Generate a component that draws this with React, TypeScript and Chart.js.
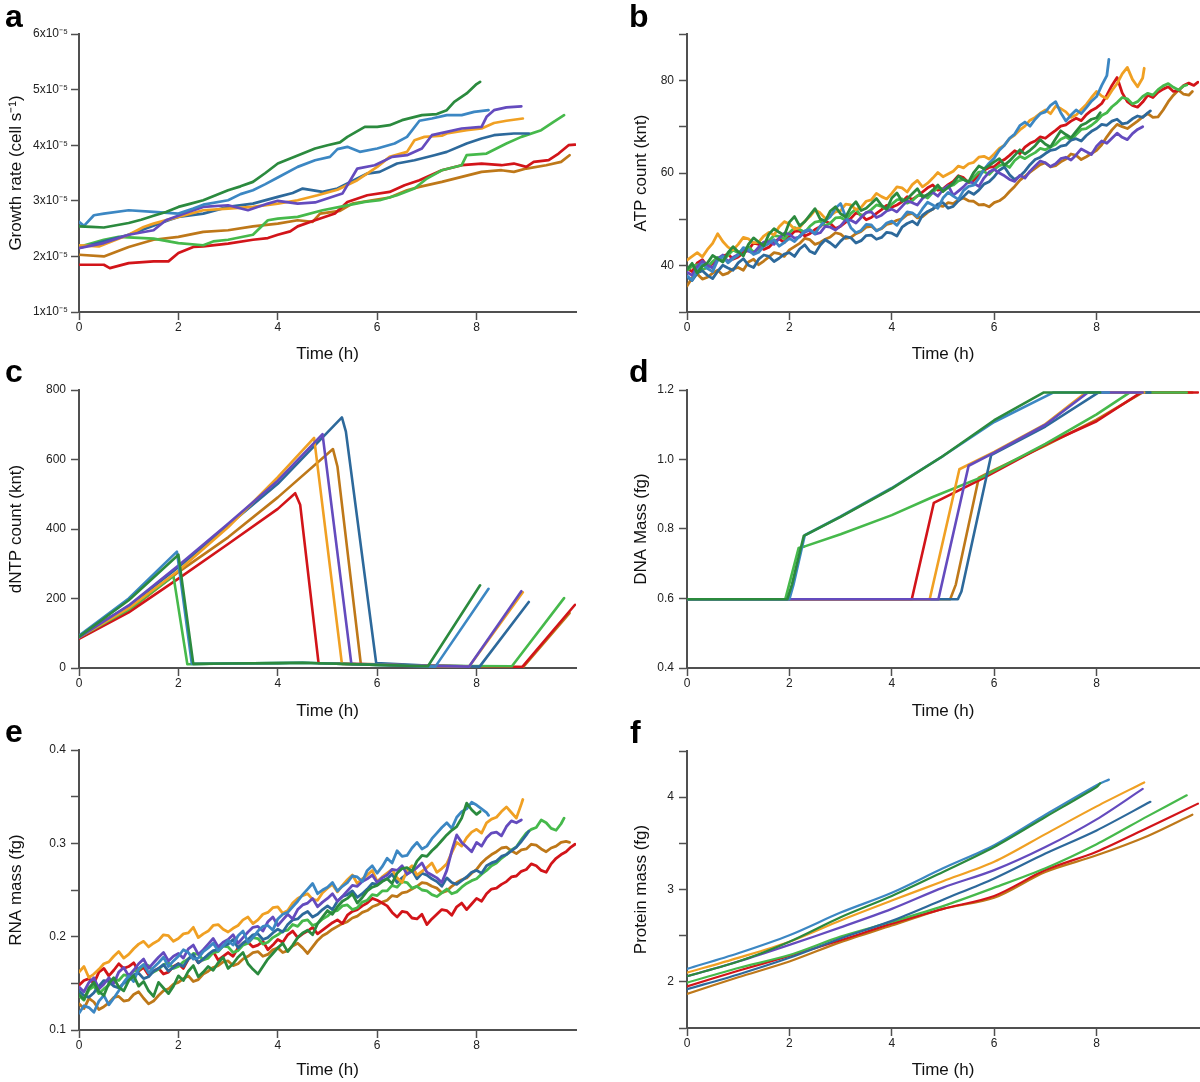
import React, { useEffect, useRef } from 'react';
import { Chart, registerables } from 'chart.js';

Chart.register(...registerables);

const FONT = "'Liberation Sans', Arial, Helvetica, sans-serif";
Chart.defaults.font.family = FONT;

// ---- cells (same colour = same cell in every panel) ----
const CELLS = ['cell 1', 'cell 2', 'cell 3', 'cell 4', 'cell 5', 'cell 6', 'cell 7', 'cell 8'];
const COLORS = ['#2b8a3e', '#3c87c3', '#644bbe', '#f0a023', '#2d699b', '#46b94b', '#d21419', '#be7819'];
const CELL_END = [8.07, 8.24, 8.9, 8.93, 9.05, 9.76, 9.98, 9.87];

const X_TICKS_MAX = 8;
const TIME_GRID = [
  0, 0.1, 0.2, 0.3, 0.4, 0.5, 0.6, 0.7, 0.8, 0.9,
  1, 1.1, 1.2, 1.3, 1.4, 1.5, 1.6, 1.7, 1.8, 1.9,
  2, 2.1, 2.2, 2.3, 2.4, 2.5, 2.6, 2.7, 2.8, 2.9,
  3, 3.1, 3.2, 3.3, 3.4, 3.5, 3.6, 3.7, 3.8, 3.9,
  4, 4.1, 4.2, 4.3, 4.4, 4.5, 4.6, 4.7, 4.8, 4.9,
  5, 5.1, 5.2, 5.3, 5.4, 5.5, 5.6, 5.7, 5.8, 5.9,
  6, 6.1, 6.2, 6.3, 6.4, 6.5, 6.6, 6.7, 6.8, 6.9,
  7, 7.1, 7.2, 7.3, 7.4, 7.5, 7.6, 7.7, 7.8, 7.9,
  8, 8.1, 8.2, 8.3, 8.4, 8.5, 8.6, 8.7, 8.8, 8.9,
  9, 9.1, 9.2, 9.3, 9.4, 9.5, 9.6, 9.7, 9.8, 9.9];

// ---- a: growth rate, in units of 1e-5 cell/s ----
const growthG = [[0, 2.54], [0.25, 2.53], [0.5, 2.52], [0.75, 2.56], [1, 2.6], [1.25, 2.66], [1.5, 2.73], [1.75, 2.8], [2, 2.89], [2.25, 2.95], [2.5, 3.01], [2.75, 3.1], [3, 3.19], [3.25, 3.26], [3.5, 3.34], [3.75, 3.5], [4, 3.67], [4.25, 3.76], [4.5, 3.85], [4.75, 3.94], [5, 4.0], [5.25, 4.05], [5.4, 4.15], [5.75, 4.33], [6, 4.33], [6.25, 4.36], [6.5, 4.45], [6.9, 4.54], [7.2, 4.56], [7.4, 4.63], [7.55, 4.78], [7.8, 4.93], [8.0, 5.1], [8.07, 5.14]];
const growthLB = [[0, 2.62], [0.1, 2.55], [0.3, 2.74], [0.5, 2.77], [1, 2.83], [1.5, 2.8], [2, 2.77], [2.3, 2.86], [2.5, 2.93], [3, 3.01], [3.25, 3.12], [3.5, 3.19], [3.75, 3.3], [4, 3.42], [4.4, 3.61], [4.75, 3.73], [5.05, 3.79], [5.2, 3.93], [5.4, 3.97], [5.65, 3.88], [6, 3.94], [6.35, 4.03], [6.6, 4.15], [6.85, 4.44], [7.1, 4.48], [7.4, 4.54], [7.7, 4.54], [7.95, 4.6], [8.24, 4.63]];
const growthP = [[0, 2.15], [0.5, 2.24], [1, 2.39], [1.5, 2.47], [1.75, 2.65], [2.2, 2.8], [2.5, 2.89], [3, 2.92], [3.4, 2.83], [3.8, 2.95], [4, 3.0], [4.4, 2.95], [4.75, 2.97], [5.3, 3.13], [5.6, 3.58], [5.95, 3.64], [6.3, 3.79], [6.6, 3.82], [6.9, 3.94], [7.1, 4.18], [7.4, 4.24], [7.7, 4.3], [8.1, 4.33], [8.2, 4.51], [8.35, 4.63], [8.6, 4.68], [8.9, 4.7]];
const growthO = [[0, 2.2], [0.4, 2.18], [1, 2.39], [1.3, 2.53], [1.5, 2.59], [2, 2.71], [2.5, 2.83], [3, 2.86], [3.5, 2.89], [4, 2.95], [4.4, 3.01], [4.8, 3.1], [5.2, 3.2], [5.6, 3.37], [6, 3.61], [6.25, 3.79], [6.6, 3.88], [6.75, 4.09], [6.95, 4.15], [7.3, 4.17], [7.4, 4.21], [7.8, 4.27], [8.1, 4.3], [8.35, 4.4], [8.6, 4.44], [8.93, 4.48]];
const growthDB = [[0, 2.15], [0.5, 2.27], [1, 2.39], [1.25, 2.47], [1.8, 2.65], [2, 2.71], [2.5, 2.77], [3, 2.89], [3.5, 2.95], [4, 3.07], [4.3, 3.14], [4.5, 3.22], [4.9, 3.16], [5.2, 3.22], [5.4, 3.31], [5.8, 3.49], [6.05, 3.52], [6.4, 3.67], [6.75, 3.73], [7.15, 3.82], [7.4, 3.88], [7.8, 4.03], [8.1, 4.12], [8.35, 4.18], [8.75, 4.21], [9.05, 4.21]];
const growthLG = [[0, 2.17], [0.5, 2.3], [0.8, 2.35], [1.5, 2.32], [2, 2.24], [2.5, 2.2], [2.7, 2.27], [3, 2.3], [3.5, 2.39], [3.8, 2.65], [4, 2.68], [4.4, 2.71], [4.9, 2.83], [5.3, 2.9], [5.75, 2.98], [6.05, 3.01], [6.4, 3.1], [6.75, 3.22], [7.0, 3.4], [7.3, 3.55], [7.7, 3.64], [7.8, 3.82], [8.2, 3.85], [8.6, 4.03], [8.9, 4.15], [9.3, 4.27], [9.55, 4.42], [9.76, 4.54]];
const growthR = [[0, 1.85], [0.5, 1.85], [0.62, 1.79], [1, 1.88], [1.5, 1.91], [1.8, 1.91], [2, 2.06], [2.3, 2.17], [2.5, 2.18], [3, 2.23], [3.5, 2.3], [3.8, 2.33], [4, 2.39], [4.25, 2.45], [4.4, 2.54], [4.75, 2.65], [5.15, 2.77], [5.4, 2.98], [5.8, 3.1], [6.25, 3.16], [6.55, 3.28], [6.85, 3.37], [7.3, 3.55], [7.7, 3.64], [8.1, 3.67], [8.5, 3.64], [8.75, 3.67], [9.0, 3.61], [9.15, 3.7], [9.45, 3.73], [9.65, 3.85], [9.85, 4.0], [9.98, 4.01]];
const growthB = [[0, 2.03], [0.5, 2.0], [1, 2.17], [1.5, 2.3], [2, 2.35], [2.5, 2.44], [3, 2.47], [3.5, 2.54], [4, 2.59], [4.4, 2.65], [4.7, 2.62], [4.85, 2.77], [5.25, 2.82], [5.5, 2.95], [5.9, 3.01], [6.25, 3.06], [6.6, 3.19], [6.85, 3.25], [7.3, 3.34], [7.7, 3.43], [8.1, 3.52], [8.5, 3.55], [8.75, 3.52], [9.0, 3.58], [9.4, 3.64], [9.7, 3.7], [9.87, 3.82]];

// ---- b: ATP count (knt), one row per hour on TIME_GRID, last value at CELL_END ----
const atpG = [
  39.2, 40.5, 38.4, 39.9, 40.6, 42.2, 41.5, 40.8, 42.8, 44.1,
  43.0, 42.1, 44.6, 46.0, 45.1, 44.3, 46.8, 48.0, 47.2, 46.5,
  49.4, 50.6, 48.6, 49.5, 50.9, 52.3, 50.1, 49.6, 51.8, 52.7,
  51.2, 50.5, 52.6, 53.8, 51.9, 52.4, 53.4, 54.5, 53.0, 52.2,
  54.6, 55.7, 53.9, 54.4, 55.5, 56.6, 54.8, 55.3, 56.3, 57.4,
  56.0, 56.9, 57.8, 59.3, 58.6, 58.1, 60.1, 61.5, 60.9, 61.6,
  62.4, 63.1, 61.7, 62.6, 63.8, 65.0, 64.1, 64.9, 65.9, 67.2,
  66.2, 65.6, 67.4, 69.1, 68.3, 67.6, 69.0, 70.3, 70.8, 71.6,
  71.9,
  73.0];
const atpLB = [
  37.8, 36.9, 38.9, 40.3, 39.4, 38.7, 41.2, 42.0, 40.6, 41.5,
  42.3, 43.9, 43.5, 42.4, 42.9, 44.2, 44.8, 45.6, 44.2, 45.0,
  45.9, 45.2, 46.4, 47.5, 47.8, 46.9, 48.5, 49.7, 50.6, 52.4,
  53.4, 50.5, 48.2, 47.1, 47.6, 48.9, 48.8, 47.5, 48.1, 49.2,
  49.6, 48.7, 50.2, 51.6, 51.4, 50.6, 52.3, 53.7, 53.1, 52.4,
  54.6, 55.8, 55.0, 54.3, 56.2, 57.1, 57.4, 58.9, 60.8, 62.1,
  63.2, 64.9, 66.0, 67.5, 68.4, 70.2, 71.0, 70.1, 71.6, 72.8,
  73.2, 74.6, 75.4, 73.0, 71.2, 72.5, 73.6, 72.8, 74.1, 75.5,
  76.5, 78.9, 81.0,
  84.5];
const atpP = [
  38.6, 37.9, 39.8, 41.0, 40.1, 39.5, 41.5, 42.3, 40.9, 41.8,
  42.4, 43.6, 43.1, 42.7, 44.0, 45.1, 45.2, 44.6, 45.9, 47.0,
  46.8, 45.9, 46.2, 47.3, 47.6, 46.8, 47.1, 48.5, 48.3, 47.7,
  48.6, 49.9, 49.8, 49.2, 50.4, 51.5, 51.6, 50.4, 50.9, 51.8,
  52.2, 51.6, 52.8, 54.0, 53.6, 53.1, 54.5, 55.4, 55.8, 55.0,
  56.4, 57.3, 55.2, 56.1, 57.0, 58.2, 57.8, 57.1, 58.9, 60.2,
  60.8, 60.0, 59.4, 58.6, 58.2, 59.5, 58.9, 60.4, 61.5, 62.6,
  62.2, 61.4, 62.0, 63.1, 63.4, 62.8, 63.9, 65.2, 64.6, 64.0,
  65.8, 66.9, 66.4, 67.5, 68.6, 67.7, 67.2, 68.5, 69.4,
  70.0];
const atpO = [
  41.2, 42.0, 42.8, 41.9, 43.5, 44.8, 46.9, 45.2, 44.0, 43.4,
  44.6, 46.1, 45.8, 44.9, 45.1, 46.4, 47.2, 46.6, 48.4, 49.5,
  49.0, 47.9, 48.2, 49.6, 50.6, 52.0, 51.4, 50.2, 50.8, 51.6,
  51.9, 53.3, 53.1, 52.1, 52.6, 53.9, 54.2, 55.6, 54.9, 54.4,
  55.6, 57.0, 56.8, 55.9, 57.5, 58.4, 57.0, 57.8, 58.9, 60.1,
  59.2, 59.8, 60.4, 61.5, 61.1, 62.0, 62.3, 63.4, 63.6, 63.0,
  64.1, 65.3, 66.0, 67.4, 68.2, 69.3, 70.1, 71.4, 72.0, 72.9,
  73.6, 72.8, 74.4, 73.9, 73.2, 72.0, 72.5, 73.7, 74.8, 76.3,
  77.6, 76.6, 76.1, 77.8, 79.3, 81.4, 82.8, 80.2, 78.6, 80.5,
  82.6];
const atpDB = [
  37.6, 36.8, 38.4, 38.9, 37.9, 37.2, 38.8, 40.1, 39.5, 39.0,
  40.6, 41.5, 40.1, 39.6, 41.4, 42.3, 42.0, 40.9, 41.6, 42.5,
  42.8, 42.0, 43.6, 44.5, 43.1, 42.6, 44.4, 45.6, 44.9, 44.0,
  45.3, 46.3, 46.0, 44.9, 45.4, 46.5, 46.6, 45.7, 46.1, 47.2,
  47.0, 46.4, 48.3, 49.1, 49.6, 48.8, 50.9, 51.7, 52.2, 53.3,
  53.6, 52.4, 52.8, 54.0, 54.9, 56.0, 55.4, 56.3, 57.6, 58.1,
  59.2, 60.6, 61.3, 59.6, 58.6, 59.3, 60.4, 61.8, 62.9, 63.4,
  64.2, 64.9, 65.1, 65.8, 66.0, 67.1, 67.4, 66.9, 68.1, 69.0,
  69.6, 70.5, 70.3, 71.2, 71.6, 70.6, 70.8, 71.7, 72.3, 72.0,
  73.0,
  73.4];
const atpLG = [
  39.0, 39.9, 40.2, 39.1, 39.6, 40.9, 41.8, 41.0, 42.3, 43.4,
  42.8, 43.5, 44.1, 42.9, 43.6, 44.8, 45.4, 46.5, 46.3, 45.8,
  47.1, 48.2, 47.8, 47.2, 48.5, 49.4, 49.6, 48.6, 49.2, 50.3,
  50.4, 49.8, 51.3, 52.2, 50.7, 51.4, 52.1, 53.1, 52.8, 52.1,
  53.3, 54.2, 54.4, 53.5, 54.0, 55.1, 55.2, 54.6, 55.8, 56.9,
  56.5, 57.0, 57.4, 58.3, 58.6, 58.0, 59.1, 60.2, 60.3, 59.7,
  60.8, 61.6, 61.9, 61.2, 62.7, 63.6, 63.1, 63.8, 64.4, 65.3,
  65.0, 65.6, 66.2, 67.3, 67.8, 67.1, 68.3, 69.4, 69.6, 70.3,
  71.2, 72.4, 73.0, 74.3, 75.2, 76.3, 76.0, 74.9, 75.4, 76.5,
  77.2, 76.8, 78.0, 78.8, 79.3, 78.5, 77.9, 78.8,
  79.0];
const atpR = [
  39.4, 38.7, 40.6, 41.3, 39.8, 40.4, 41.2, 42.0, 42.5, 41.4,
  41.9, 42.8, 43.4, 44.9, 44.6, 43.5, 44.0, 45.1, 45.8, 45.0,
  46.3, 47.4, 47.5, 46.4, 46.9, 47.8, 48.4, 49.6, 49.1, 48.0,
  48.5, 49.4, 50.2, 51.4, 51.0, 49.9, 50.4, 51.3, 52.1, 53.0,
  52.6, 53.1, 53.8, 54.9, 54.3, 55.0, 55.9, 56.8, 57.4, 56.3,
  56.6, 57.5, 58.2, 59.4, 59.0, 57.9, 58.4, 59.5, 60.6, 61.2,
  61.4, 62.3, 62.9, 63.8, 64.8, 64.2, 65.6, 66.4, 66.9, 67.8,
  67.5, 68.4, 69.2, 70.1, 70.4, 71.2, 71.8, 71.3, 72.6, 73.5,
  74.1, 75.0, 76.8, 78.9, 80.6, 77.3, 75.4, 74.6, 74.2, 75.3,
  76.8, 76.3, 77.4, 78.1, 78.6, 77.6, 77.8, 78.9, 79.4, 78.9,
  79.6];
const atpB = [
  35.6, 37.4, 38.2, 37.1, 37.5, 38.4, 39.0, 38.0, 38.4, 39.3,
  39.6, 39.0, 40.8, 41.4, 40.2, 41.0, 41.9, 42.8, 42.6, 42.0,
  43.4, 44.1, 44.8, 45.9, 45.6, 44.6, 45.0, 45.7, 46.2, 47.1,
  46.8, 45.9, 46.1, 46.9, 47.4, 48.3, 48.5, 47.6, 48.0, 48.9,
  49.2, 49.8, 50.1, 51.0, 51.3, 50.3, 50.6, 51.5, 52.2, 53.0,
  52.8, 53.6, 53.4, 54.2, 54.6, 54.0, 53.9, 53.1, 53.2, 52.7,
  53.6, 54.0, 54.8, 56.0, 57.1, 58.4, 59.3, 60.2, 61.0, 61.8,
  62.2, 61.3, 61.6, 62.4, 63.0, 64.1, 63.8, 62.9, 63.5, 64.2,
  64.9, 66.1, 67.8, 69.3, 70.5, 70.0, 69.6, 70.4, 71.2, 72.1,
  72.8, 72.0, 72.1, 73.6, 75.4, 76.8, 77.9, 77.0, 76.8,
  77.6];

// ---- c: dNTP count (knt) ----
const dntpG = [[0, 90], [1, 195], [2.0, 326], [2.3, 12], [3, 13], [4, 14], [4.5, 15], [5, 13], [6, 9], [7.02, 5], [8.07, 238]];
const dntpLB = [[0, 93], [1, 200], [1.97, 335], [2.27, 12], [3, 13], [4, 14], [4.5, 15], [5, 13], [6, 9], [7.17, 4], [8.24, 228]];
const dntpP = [[0, 88], [1, 180], [2, 295], [3, 415], [4, 539], [4.9, 673], [5.48, 12], [6, 10], [7, 6], [7.85, 4], [8.9, 221]];
const dntpO = [[0, 88], [1, 172], [2, 280], [3, 405], [4, 549], [4.73, 662], [5.29, 12], [6, 10], [7, 6], [7.85, 4], [8.93, 218]];
const dntpDB = [[0, 92], [1, 178], [2, 290], [3, 410], [4, 530], [5.29, 721], [5.37, 680], [5.98, 14], [7, 7], [8.06, 4], [9.05, 190]];
const dntpLG = [[0, 88], [1, 168], [1.9, 265], [2.18, 11], [3, 13], [4, 14], [4.5, 15], [5, 13], [6, 9], [7, 6], [8.71, 5], [9.76, 201]];
const dntpR = [[0, 84], [1, 160], [2, 257], [3, 357], [4, 458], [4.35, 503], [4.45, 470], [4.82, 14], [6, 10], [7, 6], [8.92, 3], [9.98, 182]];
const dntpB = [[0, 85], [1, 165], [2, 276], [3, 376], [4, 491], [5.11, 630], [5.2, 580], [5.67, 12], [7, 6], [8.94, 3], [9.87, 158]];

// ---- d: DNA mass (fg) ----
const dnaG = [[0, 0.598], [1.96, 0.598], [2.05, 0.64], [2.28, 0.78], [3, 0.835], [4, 0.916], [5, 1.01], [6, 1.113], [6.97, 1.193], [8.07, 1.193]];
const dnaLB = [[0, 0.598], [2.0, 0.598], [2.08, 0.64], [2.3, 0.782], [3, 0.836], [4, 0.918], [5, 1.01], [6, 1.108], [7.16, 1.193], [8.24, 1.193]];
const dnaP = [[0, 0.598], [4.91, 0.598], [5.5, 0.982], [6, 1.02], [7, 1.1], [7.83, 1.193], [8.9, 1.193]];
const dnaO = [[0, 0.598], [4.74, 0.598], [5.32, 0.972], [6, 1.022], [7, 1.102], [7.79, 1.193], [8.93, 1.193]];
const dnaDB = [[0, 0.598], [5.29, 0.598], [5.36, 0.62], [5.94, 1.0125], [7, 1.095], [8.04, 1.193], [9.05, 1.193]];
const dnaLG = [[0, 0.598], [1.92, 0.598], [2.18, 0.745], [2.3, 0.75], [3, 0.785], [4, 0.84], [4.8, 0.892], [5.77, 0.95], [7, 1.045], [8, 1.13], [8.65, 1.193], [9.76, 1.193]];
const dnaR = [[0, 0.598], [4.39, 0.598], [4.82, 0.875], [5.77, 0.945], [7.04, 1.046], [8, 1.11], [8.87, 1.193], [9.98, 1.193]];
const dnaB = [[0, 0.598], [5.14, 0.598], [5.25, 0.64], [5.7, 0.948], [6, 0.97], [7, 1.04], [8, 1.115], [8.9, 1.193], [9.87, 1.193]];

// ---- e: RNA mass (fg), one row per hour on TIME_GRID, last value at CELL_END ----
const rnaG = [
  0.138, 0.133, 0.145, 0.151, 0.141, 0.137, 0.150, 0.156, 0.146, 0.142,
  0.153, 0.158, 0.147, 0.152, 0.142, 0.136, 0.151, 0.145, 0.139, 0.147,
  0.158, 0.153, 0.163, 0.169, 0.157, 0.162, 0.168, 0.164, 0.172, 0.178,
  0.166, 0.171, 0.178, 0.183, 0.171, 0.165, 0.160, 0.168, 0.176, 0.182,
  0.188, 0.193, 0.184, 0.191, 0.199, 0.204, 0.207, 0.202, 0.214, 0.221,
  0.228, 0.224, 0.232, 0.238, 0.241, 0.246, 0.236, 0.242, 0.249, 0.253,
  0.255, 0.259, 0.262, 0.257, 0.268, 0.273, 0.274, 0.270, 0.281, 0.287,
  0.286, 0.292, 0.297, 0.303, 0.309, 0.314, 0.318, 0.327, 0.343, 0.336,
  0.331,
  0.334];
const rnaLB = [
  0.118, 0.126, 0.124, 0.119, 0.131, 0.137, 0.127, 0.134, 0.142, 0.151,
  0.158, 0.152, 0.166, 0.170, 0.161, 0.167, 0.172, 0.178, 0.168, 0.174,
  0.179, 0.186, 0.183, 0.176, 0.177, 0.184, 0.188, 0.193, 0.185, 0.190,
  0.196, 0.191, 0.201, 0.206, 0.194, 0.199, 0.206, 0.211, 0.212, 0.207,
  0.219, 0.224, 0.226, 0.232, 0.238, 0.245, 0.251, 0.257, 0.246, 0.250,
  0.253, 0.258, 0.249, 0.254, 0.258, 0.265, 0.264, 0.259, 0.271, 0.276,
  0.268, 0.275, 0.284, 0.279, 0.292, 0.286, 0.287, 0.295, 0.301, 0.294,
  0.297, 0.305, 0.311, 0.317, 0.322, 0.316, 0.328, 0.334, 0.337, 0.344,
  0.341, 0.337, 0.333,
  0.330];
const rnaP = [
  0.146, 0.141, 0.151, 0.156, 0.144, 0.149, 0.156, 0.150, 0.162, 0.167,
  0.158, 0.164, 0.171, 0.176, 0.166, 0.172, 0.178, 0.183, 0.174, 0.179,
  0.182, 0.177, 0.187, 0.191, 0.181, 0.186, 0.192, 0.198, 0.189, 0.194,
  0.197, 0.202, 0.193, 0.199, 0.205, 0.210, 0.211, 0.206, 0.216, 0.221,
  0.212, 0.218, 0.224, 0.219, 0.229, 0.234, 0.236, 0.241, 0.232, 0.237,
  0.241, 0.246, 0.238, 0.243, 0.249, 0.255, 0.254, 0.259, 0.262, 0.266,
  0.258, 0.263, 0.266, 0.272, 0.271, 0.276, 0.267, 0.270, 0.274, 0.279,
  0.269, 0.266, 0.263, 0.258, 0.271, 0.292, 0.309, 0.301, 0.296, 0.291,
  0.301, 0.297, 0.306, 0.311, 0.312, 0.308, 0.318, 0.324, 0.322,
  0.325];
const rnaO = [
  0.162, 0.168, 0.156, 0.160, 0.165, 0.171, 0.173, 0.179, 0.184, 0.177,
  0.181, 0.187, 0.192, 0.195, 0.189, 0.193, 0.196, 0.202, 0.201, 0.195,
  0.198, 0.203, 0.204, 0.210, 0.199, 0.203, 0.206, 0.212, 0.213, 0.208,
  0.205, 0.209, 0.212, 0.218, 0.221, 0.214, 0.218, 0.224, 0.226, 0.231,
  0.232, 0.225, 0.228, 0.236, 0.241, 0.244, 0.246, 0.240, 0.239, 0.247,
  0.252, 0.256, 0.248, 0.255, 0.261, 0.266, 0.257, 0.262, 0.266, 0.271,
  0.259, 0.264, 0.268, 0.272, 0.263, 0.258, 0.271, 0.276, 0.266, 0.270,
  0.274, 0.279, 0.269, 0.273, 0.278, 0.290, 0.301, 0.297, 0.306, 0.312,
  0.315, 0.311, 0.322, 0.326, 0.328, 0.334, 0.339, 0.333, 0.327, 0.342,
  0.347];
const rnaDB = [
  0.142, 0.137, 0.135, 0.140, 0.147, 0.153, 0.152, 0.147, 0.145, 0.150,
  0.154, 0.159, 0.161, 0.155, 0.157, 0.163, 0.166, 0.170, 0.163, 0.167,
  0.171, 0.168, 0.176, 0.181, 0.172, 0.176, 0.181, 0.185, 0.186, 0.190,
  0.192, 0.197, 0.188, 0.193, 0.197, 0.202, 0.203, 0.197, 0.199, 0.204,
  0.208, 0.205, 0.213, 0.218, 0.219, 0.224, 0.227, 0.221, 0.224, 0.229,
  0.233, 0.229, 0.238, 0.243, 0.245, 0.249, 0.242, 0.246, 0.251, 0.257,
  0.256, 0.260, 0.262, 0.267, 0.258, 0.263, 0.267, 0.271, 0.262, 0.268,
  0.266, 0.262, 0.259, 0.254, 0.263, 0.258, 0.256, 0.260, 0.264, 0.269,
  0.271, 0.268, 0.276, 0.279, 0.281, 0.286, 0.288, 0.292, 0.296, 0.302,
  0.309,
  0.313];
const rnaLG = [
  0.137, 0.132, 0.143, 0.147, 0.139, 0.144, 0.148, 0.155, 0.153, 0.159,
  0.158, 0.163, 0.164, 0.170, 0.169, 0.162, 0.165, 0.170, 0.172, 0.166,
  0.168, 0.173, 0.176, 0.182, 0.181, 0.175, 0.177, 0.183, 0.184, 0.190,
  0.189, 0.183, 0.185, 0.191, 0.193, 0.199, 0.198, 0.192, 0.194, 0.199,
  0.202, 0.206, 0.207, 0.213, 0.211, 0.217, 0.218, 0.212, 0.214, 0.219,
  0.222, 0.227, 0.228, 0.233, 0.234, 0.229, 0.231, 0.237, 0.239, 0.245,
  0.244, 0.249, 0.249, 0.255, 0.253, 0.259, 0.258, 0.252, 0.254, 0.250,
  0.249, 0.245, 0.243, 0.247, 0.251, 0.246, 0.248, 0.253, 0.257, 0.260,
  0.262, 0.267, 0.271, 0.276, 0.279, 0.284, 0.288, 0.293, 0.296, 0.304,
  0.311, 0.315, 0.317, 0.325, 0.322, 0.316, 0.314, 0.321,
  0.327];
const rnaR = [
  0.148, 0.153, 0.155, 0.150, 0.162, 0.166, 0.158, 0.164, 0.171, 0.166,
  0.168, 0.172, 0.163, 0.167, 0.159, 0.163, 0.166, 0.160, 0.162, 0.168,
  0.171, 0.166, 0.176, 0.180, 0.172, 0.176, 0.179, 0.184, 0.175, 0.179,
  0.183, 0.179, 0.188, 0.193, 0.194, 0.189, 0.191, 0.195, 0.186, 0.191,
  0.197, 0.194, 0.202, 0.206, 0.199, 0.203, 0.206, 0.210, 0.203, 0.207,
  0.211, 0.215, 0.218, 0.214, 0.223, 0.227, 0.229, 0.233, 0.236, 0.241,
  0.239, 0.236, 0.233, 0.226, 0.221, 0.227, 0.226, 0.220, 0.219, 0.224,
  0.213, 0.219, 0.224, 0.229, 0.228, 0.223, 0.232, 0.236, 0.229, 0.235,
  0.241, 0.238, 0.246, 0.251, 0.252, 0.256, 0.259, 0.264, 0.265, 0.270,
  0.272, 0.278, 0.276, 0.271, 0.269, 0.278, 0.284, 0.288, 0.291, 0.296,
  0.299];
const rnaB = [
  0.128, 0.123, 0.134, 0.130, 0.122, 0.125, 0.129, 0.135, 0.136, 0.131,
  0.132, 0.138, 0.141, 0.134, 0.128, 0.131, 0.137, 0.142, 0.144, 0.149,
  0.151, 0.155, 0.158, 0.152, 0.154, 0.160, 0.163, 0.167, 0.169, 0.173,
  0.174, 0.169, 0.171, 0.176, 0.179, 0.183, 0.184, 0.179, 0.181, 0.186,
  0.188, 0.183, 0.185, 0.190, 0.193, 0.188, 0.182, 0.189, 0.196, 0.201,
  0.204, 0.208, 0.211, 0.214, 0.216, 0.220, 0.222, 0.226, 0.228, 0.232,
  0.234, 0.237, 0.239, 0.244, 0.243, 0.247, 0.248, 0.251, 0.254, 0.258,
  0.257, 0.254, 0.252, 0.247, 0.249, 0.254, 0.258, 0.261, 0.263, 0.268,
  0.272, 0.279, 0.284, 0.288, 0.291, 0.295, 0.296, 0.292, 0.289, 0.293,
  0.294, 0.299, 0.298, 0.294, 0.291, 0.295, 0.297, 0.301, 0.302,
  0.301];

// ---- f: protein mass (fg) ----
const protG = [[0, 2.06], [1, 2.22], [2, 2.435], [3, 2.7], [4, 2.93], [5, 3.19], [6, 3.46], [7, 3.785], [8, 4.11], [8.07, 4.15]];
const protLB = [[0, 2.14], [1, 2.31], [2, 2.505], [3, 2.75], [4, 2.965], [5, 3.23], [6, 3.48], [7, 3.81], [8, 4.13], [8.24, 4.19]];
const protP = [[0, 2.06], [1, 2.22], [2, 2.4], [3, 2.59], [4, 2.79], [5, 3.02], [6, 3.21], [7, 3.46], [8, 3.76], [8.9, 4.09]];
const protO = [[0, 2.1], [1, 2.26], [2, 2.435], [3, 2.665], [4, 2.88], [5, 3.09], [6, 3.3], [7, 3.6], [8, 3.9], [8.93, 4.16]];
const protDB = [[0, 1.92], [1, 2.08], [2, 2.26], [3, 2.47], [4, 2.66], [5, 2.89], [6, 3.12], [7, 3.39], [8, 3.64], [9.05, 3.95]];
const protLG = [[0, 1.99], [1, 2.15], [2, 2.29], [3, 2.49], [4, 2.65], [5, 2.82], [6, 3.02], [7, 3.23], [8, 3.49], [9, 3.795], [9.76, 4.02]];
const protR = [[0, 1.95], [1, 2.12], [2, 2.28], [3, 2.45], [4, 2.63], [5, 2.79], [6, 2.93], [7, 3.21], [8, 3.41], [9, 3.67], [9.98, 3.93]];
const protB = [[0, 1.87], [1, 2.05], [2, 2.22], [3, 2.43], [4, 2.61], [5, 2.79], [6, 2.91], [7, 3.19], [8, 3.37], [9, 3.58], [9.87, 3.81]];

type Pt = { x: number; y: number };
const fromPairs = (pairs: number[][]): Pt[] => pairs.map(([x, y]) => ({ x, y }));
const fromGrid = (vals: number[], end: number): Pt[] => {
  const pts = vals.slice(0, -1).map((v, i) => ({ x: TIME_GRID[i], y: v })).filter((p) => p.x < end);
  pts.push({ x: end, y: vals[vals.length - 1] });
  return pts;
};

type Spec = {
  id: string; left: number; top: number; width: number; height: number;
  padTop: number; padRight: number; xH: number; yW: number; xTitlePad: number; yTitlePad: number;
  yMin: number; yMax: number; yStep: number; yLabel: (v: number) => string; yTitle: string;
  yTickPad: number; series: Pt[][]; lw: number; tension: number;
};

const sup = (v: number) => `${Math.round(v)}x10\u207B\u2075`;

const SPECS: Spec[] = [
  {
    id: 'a', left: 0, top: 0, width: 600, height: 370, padTop: 34, padRight: 24, xH: 58, yW: 79, xTitlePad: 5, yTitlePad: 6,
    yMin: 1, yMax: 6, yStep: 1, yLabel: sup, yTitle: 'Growth rate (cell s\u207B\u00B9)', yTickPad: 3,
    series: [growthG, growthLB, growthP, growthO, growthDB, growthLG, growthR, growthB].map(fromPairs), lw: 2.7, tension: 0,
  },
  {
    id: 'b', left: 600, top: 0, width: 600, height: 370, padTop: 34, padRight: 1, xH: 58, yW: 87, xTitlePad: 5, yTitlePad: 31,
    yMin: 30, yMax: 90, yStep: 10, yLabel: (v) => ([40, 60, 80].includes(Math.round(v)) ? String(Math.round(v)) : ''), yTitle: 'ATP count (knt)', yTickPad: 5,
    series: [atpG, atpLB, atpP, atpO, atpDB, atpLG, atpR, atpB].map((s, k) => fromGrid(s, CELL_END[k])), lw: 2.8, tension: 0,
  },
  {
    id: 'c', left: 0, top: 370, width: 600, height: 355, padTop: 20, padRight: 24, xH: 57, yW: 79, xTitlePad: 3, yTitlePad: 6,
    yMin: 0, yMax: 800, yStep: 200, yLabel: (v) => String(Math.round(v)), yTitle: 'dNTP count (knt)', yTickPad: 5,
    series: [dntpG, dntpLB, dntpP, dntpO, dntpDB, dntpLG, dntpR, dntpB].map(fromPairs), lw: 2.6, tension: 0,
  },
  {
    id: 'd', left: 600, top: 370, width: 600, height: 355, padTop: 20, padRight: 1, xH: 57, yW: 87, xTitlePad: 3, yTitlePad: 31,
    yMin: 0.4, yMax: 1.2, yStep: 0.2, yLabel: (v) => v.toFixed(1), yTitle: 'DNA Mass (fg)', yTickPad: 5,
    series: [dnaG, dnaLB, dnaP, dnaO, dnaDB, dnaLG, dnaR, dnaB].map(fromPairs), lw: 2.6, tension: 0,
  },
  {
    id: 'e', left: 0, top: 725, width: 600, height: 357, padTop: 25, padRight: 24, xH: 52, yW: 79, xTitlePad: 1, yTitlePad: 6,
    yMin: 0.1, yMax: 0.4, yStep: 0.05, yLabel: (v) => { const r = Math.round(v * 100); return r % 10 === 0 ? (r / 100).toFixed(1) : ''; }, yTitle: 'RNA mass (fg)', yTickPad: 5,
    series: [rnaG, rnaLB, rnaP, rnaO, rnaDB, rnaLG, rnaR, rnaB].map((s, k) => fromGrid(s, CELL_END[k])), lw: 2.8, tension: 0,
  },
  {
    id: 'f', left: 600, top: 725, width: 600, height: 357, padTop: 26, padRight: 1, xH: 54, yW: 87, xTitlePad: 1, yTitlePad: 31,
    yMin: 1.5, yMax: 4.5, yStep: 0.5, yLabel: (v) => { const r = Math.round(v * 10); return r % 10 === 0 ? String(r / 10) : ''; }, yTitle: 'Protein mass (fg)', yTickPad: 5,
    series: [protG, protLB, protP, protO, protDB, protLG, protR, protB].map(fromPairs), lw: 2.2, tension: 0.3,
  },
];

const LETTERS = [
  { t: 'a', left: 5, top: 0 }, { t: 'b', left: 629, top: 0 },
  { t: 'c', left: 5, top: 355 }, { t: 'd', left: 629, top: 355 },
  { t: 'e', left: 5, top: 715 }, { t: 'f', left: 630, top: 716 },
];

const AXIS = '#505050';

function Panel({ spec }: { spec: Spec }) {
  const ref = useRef<HTMLCanvasElement | null>(null);
  useEffect(() => {
    if (!ref.current) return;
    const grid = { drawOnChartArea: false, drawTicks: true, tickLength: 8, tickColor: AXIS, tickWidth: 1.5 };
    const border = { display: true, color: AXIS, width: 2 };
    const chart = new Chart(ref.current, {
      type: 'line',
      data: {
        datasets: spec.series.map((pts, k) => ({
          label: CELLS[k], data: pts, borderColor: COLORS[k], backgroundColor: COLORS[k],
          borderWidth: spec.lw, pointRadius: 0, fill: false, tension: spec.tension,
          borderJoinStyle: 'round' as const, borderCapStyle: 'round' as const,
        })),
      },
      options: {
        animation: false, responsive: false, devicePixelRatio: 1,
        layout: { padding: { top: spec.padTop, right: spec.padRight, left: 0, bottom: 0 } },
        plugins: { legend: { display: false }, tooltip: { enabled: false }, title: { display: false } },
        scales: {
          x: {
            type: 'linear', min: 0, max: 10,
            afterFit: (s: any) => { s.height = spec.xH; },
            afterBuildTicks: (s: any) => { s.ticks = s.ticks.filter((t: any) => t.value <= X_TICKS_MAX); },
            ticks: { stepSize: 2, padding: 0, color: '#222', font: { size: 12 }, maxRotation: 0, autoSkip: false },
            grid, border,
            title: { display: true, text: 'Time (h)', color: '#111', font: { size: 17 }, padding: { top: 0, bottom: spec.xTitlePad } },
          },
          y: {
            type: 'linear', min: spec.yMin, max: spec.yMax,
            afterFit: (s: any) => { s.width = spec.yW; },
            ticks: { stepSize: spec.yStep, padding: spec.yTickPad, color: '#222', font: { size: 12 }, autoSkip: false, callback: (v: any) => spec.yLabel(Number(v)) },
            grid, border,
            title: { display: true, text: spec.yTitle, color: '#111', font: { size: 17 }, padding: { top: spec.yTitlePad, bottom: 0 } },
          },
        },
      } as any,
    });
    return () => chart.destroy();
  }, [spec]);
  return (
    <canvas
      ref={ref}
      width={spec.width}
      height={spec.height}
      style={{ position: 'absolute', left: spec.left, top: spec.top, width: spec.width, height: spec.height }}
    />
  );
}

export default function App() {
  return (
    <div style={{ position: 'absolute', left: 0, top: 0, width: 1200, height: 1082, background: '#fff', overflow: 'hidden' }}>
      {SPECS.map((s) => <Panel key={s.id} spec={s} />)}
      {LETTERS.map((l) => (
        <div key={l.t} style={{ position: 'absolute', left: l.left, top: l.top, font: `bold 32px/32px ${FONT}`, color: '#000' }}>{l.t}</div>
      ))}
    </div>
  );
}
